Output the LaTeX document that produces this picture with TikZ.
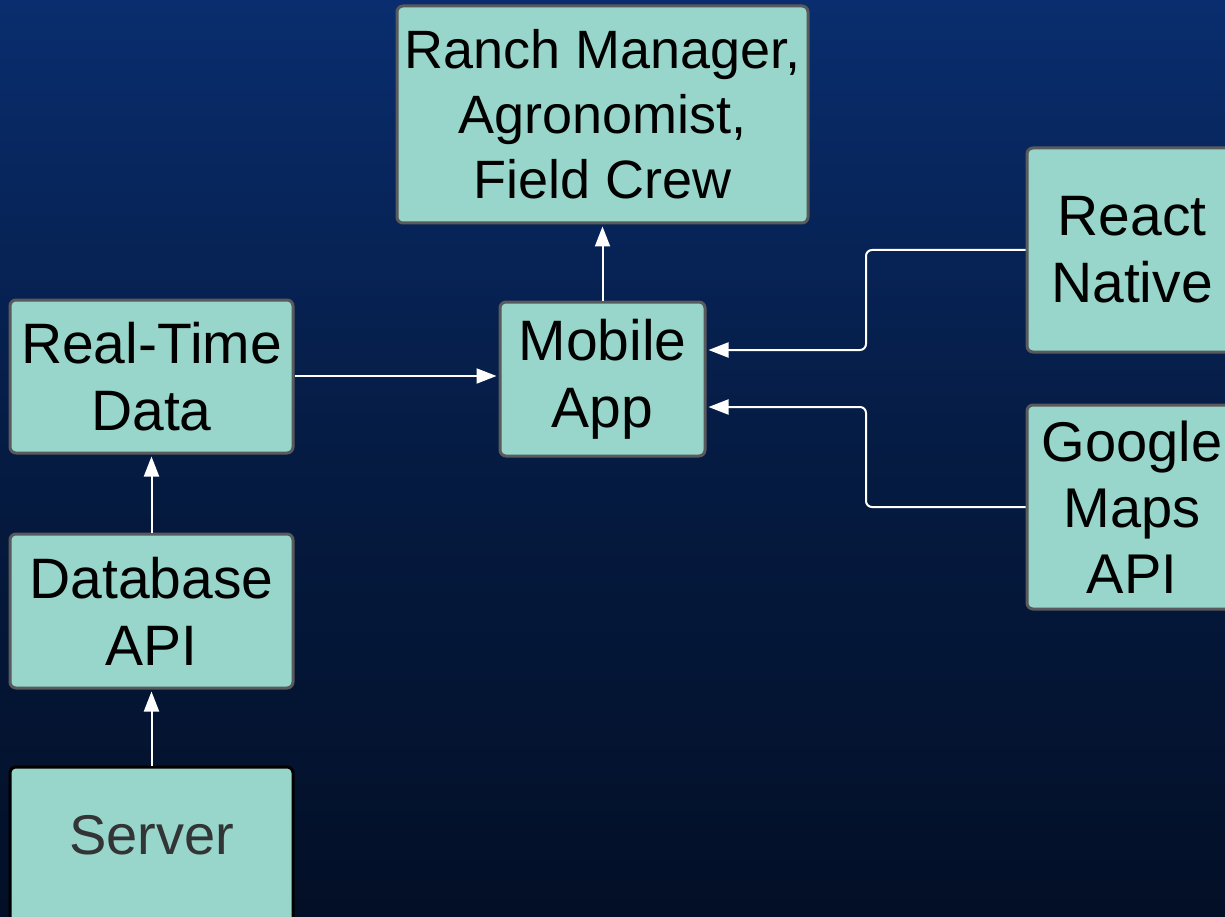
\documentclass[tikz,border=0pt]{standalone}
\usepackage{fontspec}
\setmainfont{Liberation Sans}
\usetikzlibrary{arrows.meta,calc}
\definecolor{bgtop}{RGB}{9,45,110}
\definecolor{bgmid}{RGB}{5,27,66}
\definecolor{bgbot}{RGB}{3,15,38}
\definecolor{boxfill}{RGB}{152,213,202}
\definecolor{boxline}{RGB}{88,90,92}
\definecolor{servtext}{RGB}{50,52,54}
\begin{document}
\begin{tikzpicture}[x=1pt,y=-1pt,
  box/.style={draw=boxline, line width=3pt, fill=boxfill, rounded corners=6pt,
    align=center, inner sep=0pt, text=black,
    font=\fontsize{57}{67}\selectfont},
  conn/.style={draw=white, line width=2pt, rounded corners=6pt,
    -{Triangle[width=15pt,length=20pt]}, shorten >=2pt}
]
\shade[top color=bgtop, bottom color=bgbot, middle color=bgmid] (0,0) rectangle (1225,917);
\useasboundingbox (0,0) rectangle (1225,917);

\node[box, minimum width=411pt, minimum height=217pt, font=\fontsize{54}{65}\selectfont] (ranch) at (602.5,114.5)
  {Ranch Manager,\\Agronomist,\\Field Crew};
\node[box, minimum width=283pt, minimum height=153pt] (rtd) at (151.5,376.5)
  {Real-Time\\Data};
\node[box, minimum width=283pt, minimum height=154pt] (db) at (151.5,611)
  {Database\\API};
\node[box, draw=black, minimum width=283pt, minimum height=170pt] (server) at (151.5,852) {};
\node[font=\fontsize{56}{66}\selectfont, text=servtext, inner sep=0pt] (servertext) at (151.5,835) {Server};
\node[box, minimum width=205pt, minimum height=154pt] (mobile) at (602.5,379)
  {Mobile\\App};
\node[box, minimum width=210pt, minimum height=204pt] (react) at (1132,250)
  {React\\Native};
\node[box, minimum width=210pt, minimum height=204pt, font=\fontsize{56}{66}\selectfont] (google) at (1132,507)
  {Google\\Maps\\API};

\draw[conn] (mobile.north) -- (ranch.south);
\draw[conn] (rtd.east |- 0,376) -- (mobile.west |- 0,376);
\draw[conn] (db.north) -- (rtd.south);
\draw[conn] (server.north) -- (db.south);
\draw[conn] (react.west) -- (866,250) |- ($(mobile.east)+(0,-29)$);
\draw[conn] (google.west) -- (866,507) |- ($(mobile.east)+(0,28)$);
\end{tikzpicture}
\end{document}
